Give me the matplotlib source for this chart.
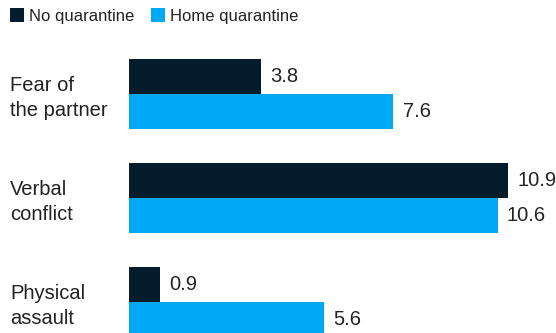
import matplotlib.pyplot as plt
import matplotlib.transforms as mtransforms
import numpy as np

plt.rcParams['font.family'] = ['Liberation Sans', 'DejaVu Sans']

# data
categories = ['Fear of\nthe partner', 'Verbal\nconflict', 'Physical\nassault']
no_quarantine = [3.8, 10.9, 0.9]
home_quarantine = [7.6, 10.6, 5.6]
series_names = ['No quarantine', 'Home quarantine']

dark = '#051c2c'
light = '#00a9f4'

fig = plt.figure(figsize=(5.56, 3.33), dpi=100)
ax = fig.add_axes([129 / 556, 0, 1 - 129 / 556, 1])

y = np.arange(len(categories))
h = 0.337

b1 = ax.barh(y - h / 2, no_quarantine, h, color=dark, label=series_names[0])
b2 = ax.barh(y + h / 2, home_quarantine, h, color=light, label=series_names[1])

ax.set_xlim(0, 12.27)
ax.set_ylim(2.298, -0.904)
ax.axis('off')

# value labels at bar ends
for bars, vals in [(b1, no_quarantine), (b2, home_quarantine)]:
    for bar, v in zip(bars, vals):
        ax.annotate(f'{v}', (v, bar.get_y() + bar.get_height() / 2),
                    xytext=(6.5, 0), textcoords='offset points',
                    ha='left', va='center', fontsize=14.5, color='#222222')

# category labels on the left
trans = mtransforms.blended_transform_factory(fig.transFigure, ax.transData)
for yi, cat in zip(y, categories):
    ax.text(10 / 556, yi + 0.04, cat, transform=trans, ha='left', va='center',
            fontsize=14.5, color='#222222', linespacing=1.4)

fig.legend(handles=[b1, b2], loc='upper left', bbox_to_anchor=(-0.009, 1.02),
           ncol=2, frameon=False, fontsize=12, handlelength=0.85,
           handleheight=0.85, handletextpad=0.3, columnspacing=1.0,
           labelcolor='#222222')

fig.savefig('out.png', dpi=100)
